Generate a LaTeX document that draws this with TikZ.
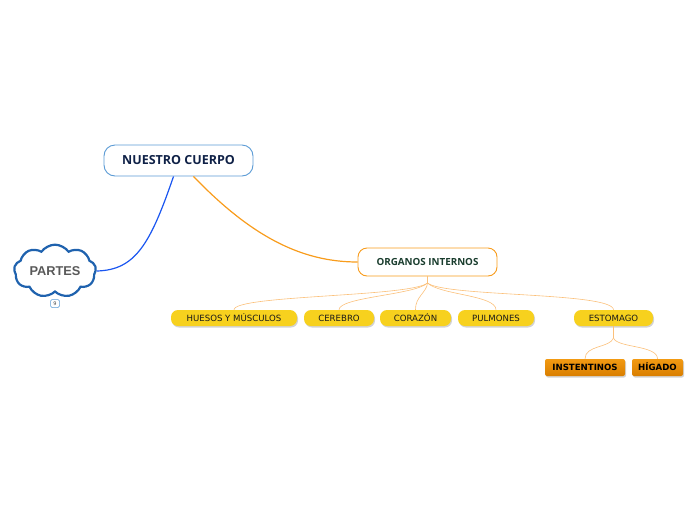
\documentclass[tikz,border=0pt]{standalone}
\usepackage{fontspec}
\setmainfont{DejaVu Sans}
\newfontfamily\opensans{Open Sans}
\newfontfamily\libsans{Liberation Sans}
\usetikzlibrary{shapes.symbols,shadows}
\definecolor{rootblue}{HTML}{5B9BD5}
\definecolor{navy}{HTML}{0F2147}
\definecolor{cloudblue}{HTML}{1F62AE}
\definecolor{linkblue}{HTML}{1A56F0}
\definecolor{orangeline}{HTML}{F89C1C}
\definecolor{lightorange}{HTML}{FBC07A}
\definecolor{pillyellow}{HTML}{F7D11E}
\definecolor{boxorange}{HTML}{E58A00}
\definecolor{boxorangetop}{HTML}{F29A12}
\definecolor{boxorangebot}{HTML}{D97E00}
\definecolor{darkgreen}{HTML}{1A3D2E}
\tikzset{
  pill/.style={rounded corners=7pt, fill=pillyellow, minimum height=16pt, inner sep=0pt,
    font=\fontsize{8.6}{9}\selectfont, text=black!90,
    drop shadow={shadow xshift=1pt, shadow yshift=-1.5pt, opacity=0.35}},
  obox/.style={rounded corners=2pt, top color=boxorangetop, bottom color=boxorangebot, minimum height=17pt, inner sep=0pt,
    text height=6.4pt, text depth=0pt,
    font=\bfseries\fontsize{8.6}{9}\selectfont, text=black,
    drop shadow={shadow xshift=1pt, shadow yshift=-1.5pt, opacity=0.35}},
  thinlink/.style={draw=lightorange, line width=0.6pt}
}
\begin{document}
\begin{tikzpicture}[x=1pt,y=-1pt]
\useasboundingbox (0,0) rectangle (696,520);
% root
\node[draw=rootblue, line width=0.9pt, rounded corners=11pt, fill=white, minimum width=149pt, minimum height=31pt,
  font=\opensans\bfseries\fontsize{12.5}{14}\selectfont, text=navy] (root) at (178.5,160.5) {NUESTRO CUERPO};
% cloud
\node[cloud, cloud puffs=9, cloud puff arc=110, aspect=1.7, draw=cloudblue, line width=2.2pt, fill=white,
  minimum width=82pt, minimum height=50pt, inner sep=0pt,
  font=\libsans\bfseries\fontsize{12.8}{14}\selectfont, text=black!65] (partes) at (55,271) {PARTES};
\node[draw=rootblue, line width=0.5pt, rounded corners=1.5pt, minimum width=9pt, minimum height=8pt, inner sep=0pt,
  font=\fontsize{5}{5}\selectfont, text=black!70] (badge) at (55,303.5) {9};
% organos
\node[draw=orangeline, line width=0.9pt, rounded corners=9pt, fill=white, minimum width=139pt, minimum height=28pt,
  font=\opensans\bfseries\fontsize{9.8}{11}\selectfont, text=darkgreen] (org) at (427.5,262) {ORGANOS INTERNOS};
% pills
\node[pill, minimum width=126pt] (hue) at (234,318) {HUESOS Y MÚSCULOS};
\node[pill, minimum width=70pt] (cer) at (339,318) {CEREBRO};
\node[pill, minimum width=71pt] (cor) at (415.5,318) {CORAZÓN};
\node[pill, minimum width=76pt] (pul) at (496,318) {PULMONES};
\node[pill, minimum width=79pt] (est) at (613.5,318) {ESTOMAGO};
% orange boxes
\node[obox, minimum width=80pt] (ins) at (585,367.5) {INSTENTINOS};
\node[obox, minimum width=51pt] (hig) at (657.5,367.5) {HÍGADO};
% main links
\draw[linkblue, line width=1.2pt] (root.south)+(-5,0) .. controls (150,245) and (135,270) .. (partes.east);
\draw[orangeline, line width=1.2pt] (root.south)+(15,0) .. controls (250,235) and (300,262) .. (org.west);
% fan from organos
\coordinate (j) at (427.5,283);
\draw[thinlink] (org.south) -- (j);
\draw[thinlink] (j) .. controls (410,297) and (234,295) .. (hue.north);
\draw[thinlink] (j) .. controls (415,295) and (339,297) .. (cer.north);
\draw[thinlink] (j) .. controls (427,292) and (415,297) .. (cor.north);
\draw[thinlink] (j) .. controls (440,295) and (496,295) .. (pul.north);
\draw[thinlink] (j) .. controls (445,297) and (613,292) .. (est.north);
% fan from estomago
\coordinate (k) at (613.5,338);
\draw[thinlink] (est.south) -- (k);
\draw[thinlink] (k) .. controls (610,348) and (585,345) .. (ins.north);
\draw[thinlink] (k) .. controls (617,348) and (657.5,345) .. (hig.north);
\end{tikzpicture}
\end{document}
